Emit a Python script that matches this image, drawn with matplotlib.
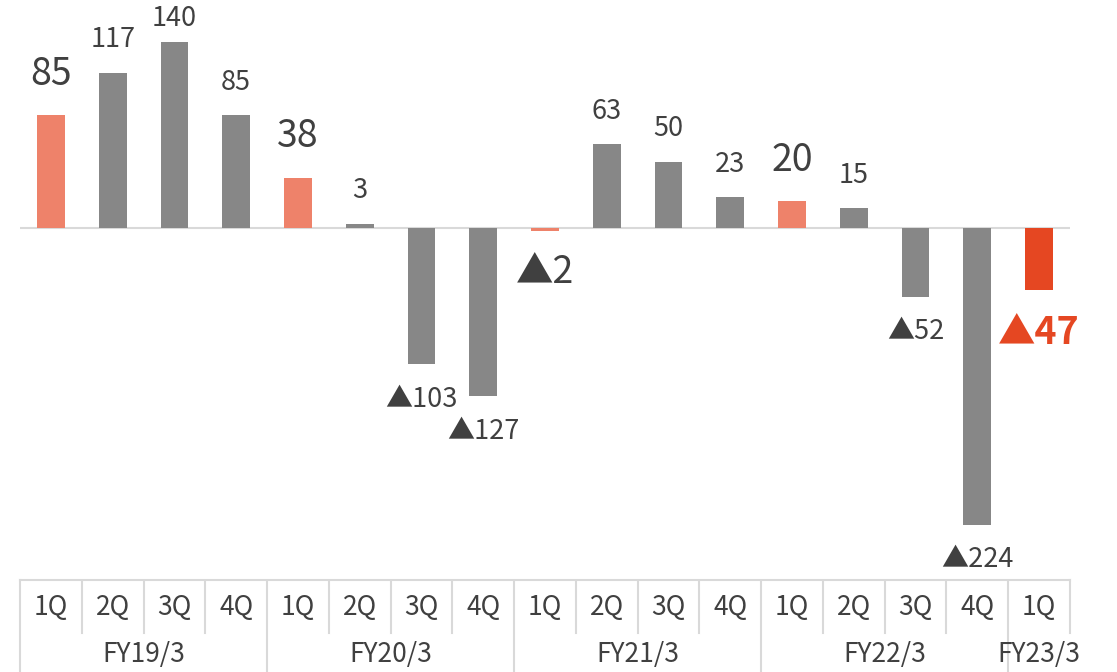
import matplotlib.pyplot as plt
import numpy as np

plt.rcParams['font.family'] = ['Noto Sans CJK JP', 'DejaVu Sans']

quarters = ['1Q', '2Q', '3Q', '4Q', '1Q', '2Q', '3Q', '4Q', '1Q', '2Q', '3Q', '4Q',
            '1Q', '2Q', '3Q', '4Q', '1Q']
years = ['FY19/3', 'FY20/3', 'FY21/3', 'FY22/3', 'FY23/3']
year_len = [4, 4, 4, 4, 1]
values = [85, 117, 140, 85, 38, 3, -103, -127, -2, 63, 50, 23, 20, 15, -52, -224, -47]

gray = '#878787'
salmon = '#EE826A'
red = '#E54722'
txt = '#404040'
line_c = '#D9D9D9'

n = len(values)
x = np.arange(n)
colors = []
for i, q in enumerate(quarters):
    if i == n - 1:
        colors.append(red)
    elif q == '1Q':
        colors.append(salmon)
    else:
        colors.append(gray)

fig = plt.figure(figsize=(11.17, 6.72), dpi=100)
W, H = 1117, 672
left, right = 20 / W, 1070 / W
ax = fig.add_axes([left, (H - 580) / H, right - left, 580 / H])
ax.bar(x, values, width=0.45, color=colors, zorder=2)
ax.axhline(0, color=line_c, lw=1.5, zorder=1)
ymin, ymax = -265.7, 172
ax.set_xlim(-0.5, n - 0.5)
ax.set_ylim(ymin, ymax)
ax.axis('off')

px = (ymax - ymin) / 580  # data units per pixel
for i, v in enumerate(values):
    big = quarters[i] == '1Q'
    label = str(v) if v >= 0 else '▲' + str(-v)
    c = red if i == n - 1 else txt
    fs = 27 if big else 19.5
    fw = 'bold' if i == n - 1 else 'normal'
    if v >= 0:
        yt = v + (41 if big else 33) * px
        yt = min(yt, ymax - 18 * px)
    else:
        yt = v - (42 if big else 35) * px
    ax.text(i, yt, label, ha='center', va='center', fontsize=fs, color=c, fontweight=fw)

# table-like category axis
tb = fig.add_axes([left, 0, right - left, (H - 580) / H])
tb.set_xlim(-0.5, n - 0.5)
tb.set_ylim(0, 1)
tb.axis('off')
mid = (672 - 633) / 92
tb.plot([-0.5, n - 0.5], [1, 1], color=line_c, lw=1.5, clip_on=False)
tb.plot([-0.5, -0.5], [0, 1], color=line_c, lw=1.5, clip_on=False)
for i, q in enumerate(quarters):
    tb.text(i, 0.70, q, ha='center', va='center', fontsize=19, color=txt)
start = 0
for y, l in zip(years, year_len):
    tb.text(start + (l - 1) / 2, 0.19, y, ha='center', va='center', fontsize=19, color=txt)
    for k in range(1, l):
        tb.plot([start + k - 0.5] * 2, [mid, 1], color=line_c, lw=1.5)
    start += l
    if start < n:
        tb.plot([start - 0.5] * 2, [0, 1], color=line_c, lw=1.5, zorder=3)
    else:
        tb.plot([start - 0.5] * 2, [mid, 1], color=line_c, lw=1.5, clip_on=False)

fig.savefig('out.png', dpi=100)
